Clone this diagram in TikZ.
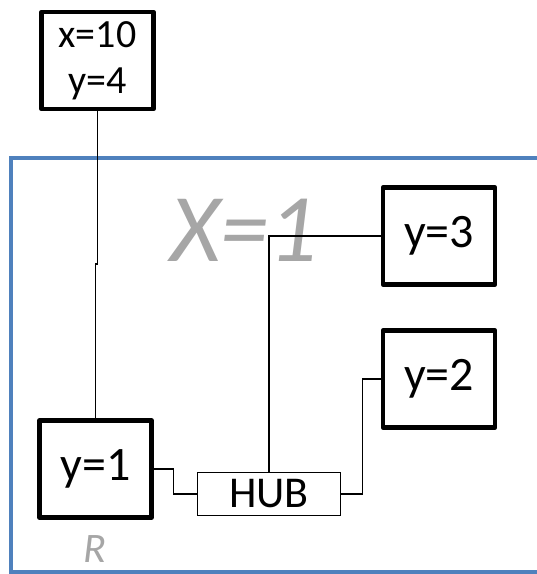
\documentclass[tikz,border=0pt]{standalone}
\usepackage{fontspec}
\setmainfont{Carlito}
\usepackage{xcolor}
\definecolor{rblue}{RGB}{79,129,189}
\definecolor{rgray}{RGB}{166,166,166}
\usetikzlibrary{positioning}

\begin{document}
\begin{tikzpicture}[x=1pt, y=-1pt,
  node box/.style={draw, line width=4.5pt, line join=round, fill=white,
                   minimum width=112pt, minimum height=97pt, inner sep=0pt,
                   font=\fontsize{48}{54}\selectfont},
  hub box/.style={draw, line width=1.4pt, fill=white, minimum width=143pt,
                  minimum height=43pt, inner sep=0pt,
                  font=\fontsize{44}{50}\selectfont},
  wire/.style={line width=1.4pt}]

\useasboundingbox (0,0) rectangle (537,574);

% Region R (runs past the right edge)
\draw[rblue, line width=4.5pt] (11,158) rectangle (560,572);
\node[font=\fontsize{97}{100}\selectfont\itshape, rgray] (xlab) at (244,230) {X=1};
\node[font=\fontsize{42}{46}\selectfont\itshape, rgray] (rlab) at (95,549) {R};

% --- nodes ---
\node[node box, font=\fontsize{40}{46}\selectfont, align=center] (cfg) at (97.5,60.5) {x=10\\y=4};
\node[node box] (y1) at (95.5,469) {y=1};
\node[node box] (y3) at (439,236) {y=3};
\node[node box] (y2) at (439,379) {y=2};
\node[hub box] (hub) at (269,494) {HUB};

% --- wires ---
\draw[wire] (cfg.south) -- (cfg.south |- 0,264) -| (y1.north);
\draw[wire] (y1.east) -- ++(20,0) |- (hub.west);
\draw[wire] (hub.north) |- (y3.west);
\draw[wire] (hub.east) -- ++(21,0) |- (y2.west);

\end{tikzpicture}
\end{document}
